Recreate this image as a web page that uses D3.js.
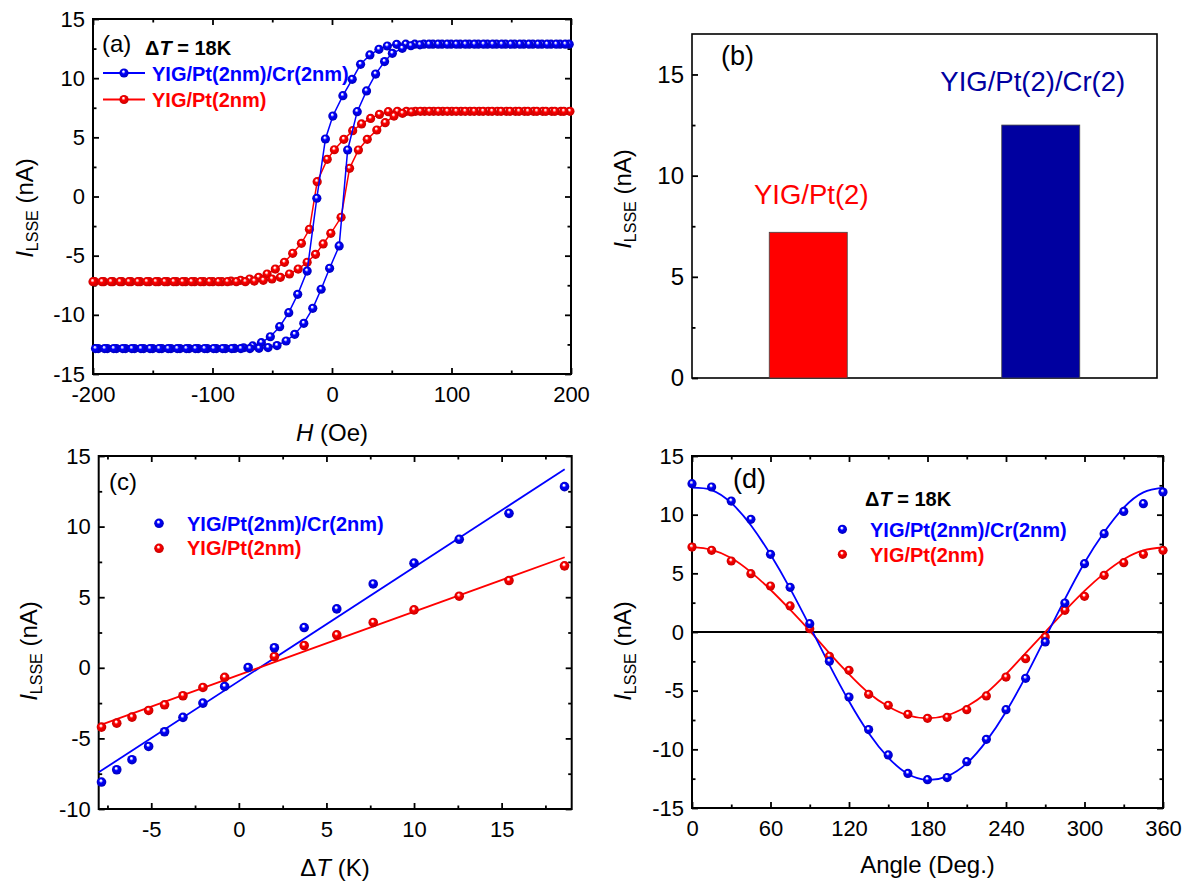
<!DOCTYPE html>
<html>
<head>
<meta charset="utf-8">
<script src="https://cdn.jsdelivr.net/npm/d3@7"></script>
<style>
  body { margin: 0; background: #fff; }
  svg text { font-family: "Liberation Sans", Arial, sans-serif; }
</style>
</head>
<body>
<svg id="chart" width="1194" height="883"></svg>
<script>
// ---- (a) hysteresis loops, field H (Oe) and current I (nA)
const hBlueDown = [-195.6,-188,-180.4,-172.8,-165.2,-157.6,-150,-142.4,-134.8,-127.2,-119.6,-112,-104.4,-96.8,-89.2,-81.6,
  -74,-66.4,-59.1,-51.6,-43.8,-36.2,-28.7,-20.8,-12.7,-5.5,0.7,9.1,16.9,23.9,31.7,39.3,46.3,54.1,
  61.7,69.3,76.9,84.5,92.1,99.7,107.3,114.9,122.5,130.1,137.7,145.3,152.9,160.5,168.1,175.7,183.3,190.9,198.5];
const iBlueDown = [-12.85,-12.85,-12.85,-12.85,-12.85,-12.85,-12.85,-12.85,-12.85,-12.85,-12.85,-12.85,-12.85,-12.85,-12.85,-12.84,
  -12.78,-12.63,-12.35,-11.85,-11.0,-9.82,-8.27,-6.3,-0.15,4.86,6.8,8.52,9.9,11.17,11.96,12.44,12.72,12.86,
  12.87,12.87,12.87,12.87,12.87,12.87,12.87,12.87,12.87,12.87,12.87,12.87,12.87,12.87,12.87,12.87,12.87,12.87,12.87];
const hBlueUp = [-197.9,-190.3,-182.7,-175.1,-167.5,-159.9,-152.3,-144.7,-137.1,-129.5,-121.9,-114.3,-106.7,-99.1,-91.5,-83.9,-76.3,-68.7,-61.1,
  -53.5,-46,-38.4,-31.2,-23.6,-16.1,-9.1,-2,6,13.1,21.1,28.9,36.5,44,50.5,58.8,66,
  73.6,81.2,88.8,96.4,104,111.6,119.2,126.8,134.4,142,149.6,157.2,164.8,172.4,180,187.6,195.2];
const iBlueUp = [-12.85,-12.85,-12.85,-12.85,-12.85,-12.85,-12.85,-12.85,-12.85,-12.85,-12.85,-12.85,-12.85,-12.85,-12.85,-12.85,-12.85,-12.85,-12.83,
  -12.77,-12.6,-12.21,-11.65,-10.72,-9.45,-7.84,-6.07,-4.18,3.93,7.17,8.92,10.35,11.4,12.1,12.52,12.74,
  12.82,12.87,12.87,12.87,12.87,12.87,12.87,12.87,12.87,12.87,12.87,12.87,12.87,12.87,12.87,12.87,12.87];
const hRedDown = [-198.5,-190.9,-183.3,-175.7,-168.1,-160.5,-152.9,-145.3,-137.7,-130.1,-122.5,-114.9,-107.3,-99.7,-92.1,-84.5,-76.5,
  -68.9,-61.4,-54.3,-47.4,-39.8,-32.9,-25.6,-18.9,-12.4,-4,2,9.9,17.3,24.7,32.3,39.7,47.1,
  54.7,62.3,69.9,77.5,85.1,92.7,100.3,107.9,115.5,123.1,130.7,138.3,145.9,153.5,161.1,168.7,176.3,183.9,191.5,199.1];
const iRedDown = [-7.2,-7.2,-7.2,-7.2,-7.2,-7.2,-7.2,-7.2,-7.2,-7.2,-7.2,-7.2,-7.2,-7.2,-7.2,-7.15,-7.08,
  -6.97,-6.83,-6.55,-6.13,-5.56,-4.8,-3.96,-2.77,1.25,3.14,3.95,4.83,5.56,6.13,6.6,6.94,7.17,
  7.2,7.2,7.2,7.2,7.2,7.2,7.2,7.2,7.2,7.2,7.2,7.2,7.2,7.2,7.2,7.2,7.2,7.2,7.2,7.2];
const hRedUp = [-200,-192.5,-185,-177.5,-170,-162.5,-155,-147.5,-140,-132.5,-125,-117.5,-110,-102.5,-95,-87.5,-80,-72.5,-65,-57.5,
  -50.2,-43.2,-35.6,-28.3,-20.8,-13.8,-7.4,-1,7.6,14.7,22.1,29.5,37.5,44.5,51.9,59,66.5,
  74,81.5,89,96.5,104,111.5,119,126.5,134,141.5,149,156.5,164,171.5,179,186.5,194];
const iRedUp = [-7.2,-7.2,-7.2,-7.2,-7.2,-7.2,-7.2,-7.2,-7.2,-7.2,-7.2,-7.2,-7.2,-7.2,-7.2,-7.2,-7.2,-7.2,-7.15,-7.08,
  -6.97,-6.83,-6.55,-6.13,-5.56,-4.89,-4.01,-3.11,-1.76,2.38,3.93,4.83,5.62,6.24,6.8,7.03,7.15,
  7.2,7.2,7.2,7.2,7.2,7.2,7.2,7.2,7.2,7.2,7.2,7.2,7.2,7.2,7.2,7.2,7.2];

// ---- (b) bars
const barNames = ["YIG/Pt(2)", "YIG/Pt(2)/Cr(2)"];
const barValues = [7.2, 12.5];
const barColors = ["#ff0000", "#0000a0"];

// ---- (c) current vs temperature difference
const dTBlue = [-7.84,-6.97,-6.1,-5.15,-4.24,-3.19,-2.05,-0.81,0.53,2.03,3.73,5.59,7.67,10.0,12.58,15.42,18.59];
const iBlueT = [-8.09,-7.22,-6.51,-5.57,-4.53,-3.51,-2.5,-1.32,0.02,1.42,2.85,4.17,5.94,7.41,9.1,10.94,12.83];
const dTRed = [-7.84,-6.97,-6.1,-5.15,-4.24,-3.19,-2.05,-0.81,2.03,3.73,5.59,7.67,10.0,12.58,15.42,18.59];
const iRedT = [-4.2,-3.92,-3.49,-3.02,-2.62,-1.98,-1.39,-0.68,0.8,1.58,2.33,3.21,4.1,5.07,6.18,7.22];
const fitT = [-8, 18.6];
const fitBlueT = [-7.4, 14.06];
const fitRedT = [-4.1, 7.83];

// ---- (d) angular dependence
const angles = [0,15,30,45,60,75,90,105,120,135,150,165,180,195,210,225,240,255,270,285,300,315,330,345,360];
const iBlueAng = [12.64,12.36,11.16,9.6,6.62,3.81,0.71,-2.5,-5.54,-8.32,-10.48,-12.05,-12.59,-12.41,-11.05,-9.15,-6.62,-3.95,-0.85,2.47,5.82,8.38,10.28,10.94,11.93];
const iRedAng = [7.24,6.96,6.05,4.97,3.92,2.22,0.28,-2.07,-3.27,-5.31,-6.25,-7.02,-7.36,-7.27,-6.62,-5.45,-3.84,-2.27,-0.43,1.85,3.04,4.83,5.91,6.62,6.96];
const fitBlueAng = [12.3,12.1,11.0,9.1,6.6,3.7,0.5,-2.8,-5.9,-8.6,-10.7,-12.1,-12.6,-12.3,-11.2,-9.3,-6.8,-3.8,-0.5,2.8,5.9,8.5,10.6,11.9,12.3];
const fitRedAng = [7.25,7.0,6.3,5.1,3.6,1.9,0.1,-1.8,-3.6,-5.2,-6.35,-7.1,-7.35,-7.1,-6.35,-5.2,-3.6,-1.8,0.0,1.8,3.5,5.0,6.2,6.95,7.2];

// ---- ticks
const ticksI = [-15,-10,-5,0,5,10,15];
const minorI = [-12.5,-7.5,-2.5,2.5,7.5,12.5];
const ticksH = [-200,-100,0,100,200];
const minorH = [-150,-50,50,150];
const ticksB = [0,5,10,15];
const minorB = [2.5,7.5,12.5];
const ticksT = [-5,0,5,10,15];
const minorT = [-7.5,-2.5,2.5,7.5,12.5,17.5];
const ticksIc = [-10,-5,0,5,10,15];
const minorIc = [-7.5,-2.5,2.5,7.5,12.5];
const ticksA = [0,60,120,180,240,300,360];
const minorA = [30,90,150,210,270,330];

const BLUE = "#0000ff", RED = "#ff0000";
const svg = d3.select("#chart");
const defs = svg.append("defs");

function ballGradient(id, mid, dark) {
  const g = defs.append("radialGradient").attr("id", id)
    .attr("cx", "50%").attr("cy", "50%").attr("r", "55%")
    .attr("fx", "42%").attr("fy", "32%");
  g.append("stop").attr("offset", "0").attr("stop-color", "#ffffff");
  g.append("stop").attr("offset", "0.12").attr("stop-color", "#ffffff").attr("stop-opacity", 0.85);
  g.append("stop").attr("offset", "0.38").attr("stop-color", mid);
  g.append("stop").attr("offset", "1").attr("stop-color", dark);
}
ballGradient("ballBlue", BLUE, "#0000b4");
ballGradient("ballRed", RED, "#c00000");

function tickStyle(g) {
  g.select(".domain").remove();
  g.selectAll(".tick line").attr("stroke", "#000").attr("stroke-width", 1.8);
  g.selectAll(".tick text").attr("fill", "#000").style("font-size", "22px");
}

function panel(p) {
  const x = d3.scaleLinear().domain(p.xDomain).range([p.left, p.right]);
  const y = d3.scaleLinear().domain(p.yDomain).range([p.bottom, p.top]);
  const g = svg.append("g");
  const fmt = d => String(d);

  g.append("rect").attr("x", p.left).attr("y", p.top)
    .attr("width", p.right - p.left).attr("height", p.bottom - p.top)
    .attr("fill", "none").attr("stroke", "#000").attr("stroke-width", p.frameWidth || 2);

  if (p.xTicks) {
    g.append("g").attr("transform", `translate(0,${p.bottom})`)
      .call(d3.axisBottom(x).tickValues(p.xTicks).tickSize(-6).tickPadding(12).tickFormat(fmt)).call(tickStyle);
    g.append("g").attr("transform", `translate(0,${p.bottom})`)
      .call(d3.axisBottom(x).tickValues(p.xMinor).tickSize(-3.5).tickFormat("")).call(tickStyle);
    g.append("g").attr("transform", `translate(0,${p.top})`)
      .call(d3.axisTop(x).tickValues(p.xTicks).tickSize(-6).tickFormat("")).call(tickStyle);
    g.append("g").attr("transform", `translate(0,${p.top})`)
      .call(d3.axisTop(x).tickValues(p.xMinor).tickSize(-3.5).tickFormat("")).call(tickStyle);
  }
  g.append("g").attr("transform", `translate(${p.left},0)`)
    .call(d3.axisLeft(y).tickValues(p.yTicks).tickSize(-6).tickPadding(8).tickFormat(fmt)).call(tickStyle);
  g.append("g").attr("transform", `translate(${p.left},0)`)
    .call(d3.axisLeft(y).tickValues(p.yMinor).tickSize(-3.5).tickFormat("")).call(tickStyle);
  if (p.mirror) {
    g.append("g").attr("transform", `translate(${p.right},0)`)
      .call(d3.axisRight(y).tickValues(p.yTicks).tickSize(-6).tickFormat("")).call(tickStyle);
    g.append("g").attr("transform", `translate(${p.right},0)`)
      .call(d3.axisRight(y).tickValues(p.yMinor).tickSize(-3.5).tickFormat("")).call(tickStyle);
  }

  // y title: I_LSSE (nA)
  const yt = g.append("text")
    .attr("transform", `translate(${p.yTitleX},${p.yTitleY}) rotate(-90)`)
    .attr("text-anchor", "middle").style("font-size", "24px");
  yt.append("tspan").style("font-style", "italic").text("I");
  yt.append("tspan").style("font-size", "16px").attr("dy", 5).text("LSSE");
  yt.append("tspan").attr("dy", -5).text(" (nA)");

  // panel letter
  g.append("text").attr("x", p.tagX).attr("y", p.tagY)
    .style("font-size", p.tagSize + "px").text(p.tag);

  return { x, y, g };
}

function balls(g, xs, ys, x, y, fill, r) {
  g.append("g").selectAll("circle").data(xs).join("circle")
    .attr("cx", d => x(d)).attr("cy", (d, i) => y(ys[i]))
    .attr("r", r).attr("fill", `url(#${fill})`);
}
function line(g, xs, ys, x, y, color, w, curve) {
  const gen = d3.line().x(d => x(d[0])).y(d => y(d[1])).curve(curve || d3.curveLinear);
  g.append("path").datum(xs.map((v, i) => [v, ys[i]]))
    .attr("d", gen).attr("fill", "none").attr("stroke", color).attr("stroke-width", w);
}
function deltaT(g, xPos, yPos) {
  const t = g.append("text").attr("x", xPos).attr("y", yPos)
    .style("font-size", "20px").style("font-weight", "bold");
  t.append("tspan").text("\u0394");
  t.append("tspan").style("font-style", "italic").text("T");
  t.append("tspan").text(" = 18K");
}
function legendText(g, xPos, yPos, s, color) {
  g.append("text").attr("x", xPos).attr("y", yPos).attr("fill", color)
    .style("font-size", "20px").style("font-weight", "bold").text(s);
}

// ===== (a)
const A = panel({ left: 93, right: 571, top: 19, bottom: 374, xDomain: [-200, 200], yDomain: [-15, 15],
  xTicks: ticksH, xMinor: minorH, yTicks: ticksI, yMinor: minorI, mirror: true,
  yTitleX: 33, yTitleY: 208, tag: "(a)", tagX: 102, tagY: 52, tagSize: 24 });
line(A.g, hRedDown, iRedDown, A.x, A.y, RED, 1.5);
line(A.g, hRedUp, iRedUp, A.x, A.y, RED, 1.5);
balls(A.g, hRedDown, iRedDown, A.x, A.y, "ballRed", 4.6);
balls(A.g, hRedUp, iRedUp, A.x, A.y, "ballRed", 4.6);
line(A.g, hBlueDown, iBlueDown, A.x, A.y, BLUE, 1.5);
line(A.g, hBlueUp, iBlueUp, A.x, A.y, BLUE, 1.5);
balls(A.g, hBlueDown, iBlueDown, A.x, A.y, "ballBlue", 4.6);
balls(A.g, hBlueUp, iBlueUp, A.x, A.y, "ballBlue", 4.6);
deltaT(A.g, 145, 55);
A.g.append("line").attr("x1", 103).attr("x2", 145).attr("y1", 73).attr("y2", 73).attr("stroke", BLUE).attr("stroke-width", 1.8);
A.g.append("circle").attr("cx", 124).attr("cy", 73).attr("r", 4.6).attr("fill", "url(#ballBlue)");
legendText(A.g, 152, 81, "YIG/Pt(2nm)/Cr(2nm)", BLUE);
A.g.append("line").attr("x1", 103).attr("x2", 145).attr("y1", 99.5).attr("y2", 99.5).attr("stroke", RED).attr("stroke-width", 1.8);
A.g.append("circle").attr("cx", 124).attr("cy", 99.5).attr("r", 4.6).attr("fill", "url(#ballRed)");
legendText(A.g, 152, 107, "YIG/Pt(2nm)", RED);
const hTitle = A.g.append("text").attr("x", 332).attr("y", 441).attr("text-anchor", "middle").style("font-size", "24px");
hTitle.append("tspan").style("font-style", "italic").text("H");
hTitle.append("tspan").text(" (Oe)");

// ===== (b)
const B = panel({ left: 692, right: 1157, top: 34, bottom: 378, xDomain: [0, 1], yDomain: [0, 17],
  yTicks: ticksB, yMinor: minorB, mirror: false, frameWidth: 1.6,
  yTitleX: 631, yTitleY: 199, tag: "(b)", tagX: 721, tagY: 65, tagSize: 27 });
B.g.selectAll(".tick text").style("font-size", "24px");
const xb = d3.scalePoint().domain(barNames).range([692, 1157]).padding(0.5);
const barW = 78;
B.g.append("g").selectAll("rect").data(barNames).join("rect")
  .attr("x", d => xb(d) - barW / 2).attr("width", barW)
  .attr("y", (d, i) => B.y(barValues[i])).attr("height", (d, i) => B.y(0) - B.y(barValues[i]))
  .attr("fill", (d, i) => barColors[i]).attr("stroke", "#444").attr("stroke-width", 0.8);
B.g.append("text").attr("x", xb(barNames[0]) + 3).attr("y", 204).attr("text-anchor", "middle")
  .attr("fill", barColors[0]).style("font-size", "27.5px").text(barNames[0]);
B.g.append("text").attr("x", xb(barNames[1]) - 8).attr("y", 91).attr("text-anchor", "middle")
  .attr("fill", barColors[1]).style("font-size", "27.5px").text(barNames[1]);

// ===== (c)
const C = panel({ left: 98.7, right: 571.7, top: 456, bottom: 809, xDomain: [-8, 19], yDomain: [-10, 15],
  xTicks: ticksT, xMinor: minorT, yTicks: ticksIc, yMinor: minorIc, mirror: true,
  yTitleX: 37, yTitleY: 651, tag: "(c)", tagX: 109, tagY: 490, tagSize: 24 });
line(C.g, fitT, fitBlueT, C.x, C.y, BLUE, 1.8);
line(C.g, fitT, fitRedT, C.x, C.y, RED, 1.8);
balls(C.g, dTRed, iRedT, C.x, C.y, "ballRed", 4.8);
balls(C.g, dTBlue, iBlueT, C.x, C.y, "ballBlue", 4.8);
C.g.append("circle").attr("cx", 159).attr("cy", 523.3).attr("r", 4.8).attr("fill", "url(#ballBlue)");
legendText(C.g, 187, 530.7, "YIG/Pt(2nm)/Cr(2nm)", BLUE);
C.g.append("circle").attr("cx", 159).attr("cy", 548.3).attr("r", 4.8).attr("fill", "url(#ballRed)");
legendText(C.g, 187, 555, "YIG/Pt(2nm)", RED);
const tTitle = C.g.append("text").attr("x", 335).attr("y", 876).attr("text-anchor", "middle").style("font-size", "24px");
tTitle.append("tspan").text("\u0394");
tTitle.append("tspan").style("font-style", "italic").text("T");
tTitle.append("tspan").text(" (K)");

// ===== (d)
const D = panel({ left: 692, right: 1163, top: 456, bottom: 808, xDomain: [0, 360], yDomain: [-15, 15],
  xTicks: ticksA, xMinor: minorA, yTicks: ticksI, yMinor: minorI, mirror: true,
  yTitleX: 631, yTitleY: 651, tag: "(d)", tagX: 733, tagY: 488, tagSize: 27 });
D.g.append("line").attr("x1", D.x(0)).attr("x2", D.x(360)).attr("y1", D.y(0)).attr("y2", D.y(0))
  .attr("stroke", "#000").attr("stroke-width", 2);
line(D.g, angles, fitRedAng, D.x, D.y, RED, 1.8, d3.curveNatural);
line(D.g, angles, fitBlueAng, D.x, D.y, BLUE, 1.8, d3.curveNatural);
balls(D.g, angles, iRedAng, D.x, D.y, "ballRed", 4.6);
balls(D.g, angles, iBlueAng, D.x, D.y, "ballBlue", 4.6);
deltaT(D.g, 865, 506);
D.g.append("circle").attr("cx", 842.4).attr("cy", 529.3).attr("r", 4.6).attr("fill", "url(#ballBlue)");
legendText(D.g, 870, 537, "YIG/Pt(2nm)/Cr(2nm)", BLUE);
D.g.append("circle").attr("cx", 842.4).attr("cy", 554.3).attr("r", 4.6).attr("fill", "url(#ballRed)");
legendText(D.g, 870, 562, "YIG/Pt(2nm)", RED);
D.g.append("text").attr("x", 927.5).attr("y", 873).attr("text-anchor", "middle")
  .style("font-size", "24px").text("Angle (Deg.)");
</script>
</body>
</html>
